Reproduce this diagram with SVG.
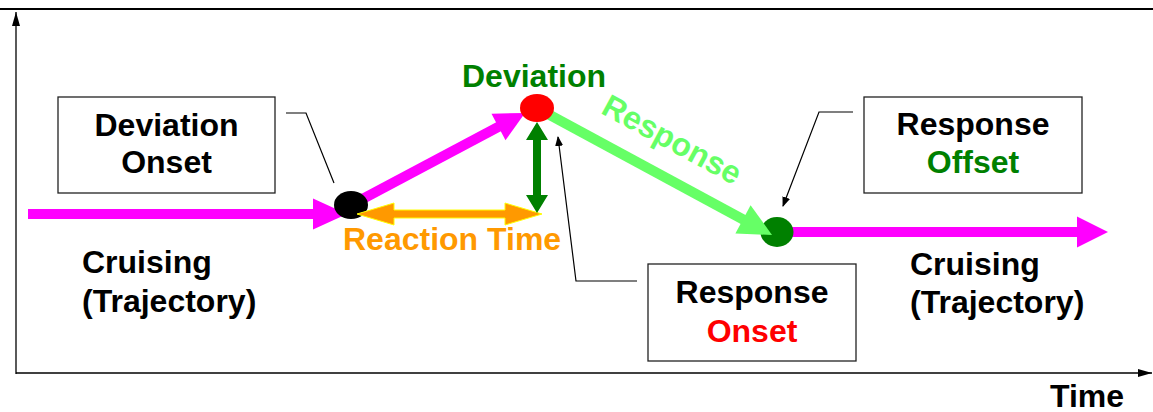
<svg xmlns="http://www.w3.org/2000/svg" width="1153" height="412" viewBox="0 0 1153 412">
<style>
text{font-family:"Liberation Sans",Arial,sans-serif;font-weight:bold;font-size:32px}
.box{fill:#fff;stroke:#222;stroke-width:1.3}
.lead{fill:none;stroke:#000;stroke-width:1.2}
.mag{fill:#FF00FF}
.magl{stroke:#FF00FF;stroke-width:10;fill:none}
</style>
<defs>
<marker id="ah" markerWidth="10" markerHeight="8" refX="9" refY="4" orient="auto" markerUnits="userSpaceOnUse">
<path d="M0,0 L10,4 L0,8 Z" fill="#000"/>
</marker>
<marker id="ax" markerWidth="14" markerHeight="8" refX="14" refY="4" orient="auto" markerUnits="userSpaceOnUse">
<path d="M0,0 L14,4 L0,8 Z" fill="#000"/>
</marker>
</defs>
<rect width="1153" height="412" fill="#fff"/>
<g id="axes">
<line x1="0" y1="9" x2="1153" y2="9" stroke="#000" stroke-width="2"/>
<line x1="16" y1="374" x2="16" y2="12" stroke="#000" stroke-width="1.3" marker-end="url(#ax)"/>
<line x1="16" y1="373" x2="1152" y2="373" stroke="#000" stroke-width="1.5" marker-end="url(#ax)"/>
<text x="1050" y="407">Time</text>
</g>
<g id="connectors">
<line class="magl" x1="28" y1="214" x2="315" y2="214"/>
<polygon class="mag" points="313,198.5 347,214 313,229.5"/>
<line class="magl" x1="355" y1="203" x2="500" y2="126"/>
<polygon class="mag" points="505.5,140.3 525,113 491.5,113.7"/>
<line stroke="#66FF66" stroke-width="10" x1="548" y1="114" x2="745" y2="220.5"/>
<line class="magl" x1="790" y1="232" x2="1080" y2="232"/>
<polygon class="mag" points="1077,216.5 1108,232 1077,247.5"/>
<path class="lead" d="M286,113 L306,113 L334,183"/>
<path class="lead" d="M853,112 L819,112 L783,206" marker-end="url(#ah)"/>
<path class="lead" d="M637,281 L576,281 L558,137" marker-end="url(#ah)"/>
</g>
<g id="dev-onset-dot"><ellipse cx="351" cy="205" rx="17" ry="14" fill="#000"/></g>
<g id="reaction-time">
<path d="M357,214 L394,203 L394,210 L505,210 L505,203 L542,214 L505,225 L505,218 L394,218 L394,225 Z" fill="#FF9900" stroke="#FFFF00" stroke-width="1"/>
<text x="343" y="250" fill="#FF9900">Reaction Time</text>
</g>
<g id="deviation-amount">
<path d="M537,122 L548,140 L541,140 L541,195 L548,195 L537,213 L526,195 L533,195 L533,140 L526,140 Z" fill="#008000"/>
</g>
<g id="deviation">
<ellipse cx="537" cy="108" rx="17" ry="14" fill="#FF0000"/>
<text x="462" y="87" fill="#008000">Deviation</text>
</g>
<g id="response-offset-dot"><ellipse cx="777" cy="232" rx="16.5" ry="15" fill="#008000"/></g>
<g id="response">
<polygon points="735.4,233.4 772,235 750.6,205.2" fill="#66FF66"/>
<text transform="translate(667,149) rotate(28.4)" text-anchor="middle" fill="#66FF66">Response</text>
</g>
<g id="deviation-onset">
<rect class="box" x="58" y="97" width="217" height="96"/>
<text x="166.5" y="136" text-anchor="middle">Deviation</text>
<text x="166.5" y="173" text-anchor="middle">Onset</text>
</g>
<g id="response-offset">
<rect class="box" x="864" y="97" width="218" height="96"/>
<text x="973" y="135" text-anchor="middle">Response</text>
<text x="973" y="173" text-anchor="middle" fill="#008000">Offset</text>
</g>
<g id="response-onset">
<rect class="box" x="648" y="264" width="208" height="97"/>
<text x="752" y="303" text-anchor="middle">Response</text>
<text x="752" y="342" text-anchor="middle" fill="#FF0000">Onset</text>
</g>
<g id="cruising-left">
<text x="82" y="273">Cruising</text>
<text x="82" y="312">(Trajectory)</text>
</g>
<g id="cruising-right">
<text x="910" y="275">Cruising</text>
<text x="910" y="313">(Trajectory)</text>
</g>
</svg>
